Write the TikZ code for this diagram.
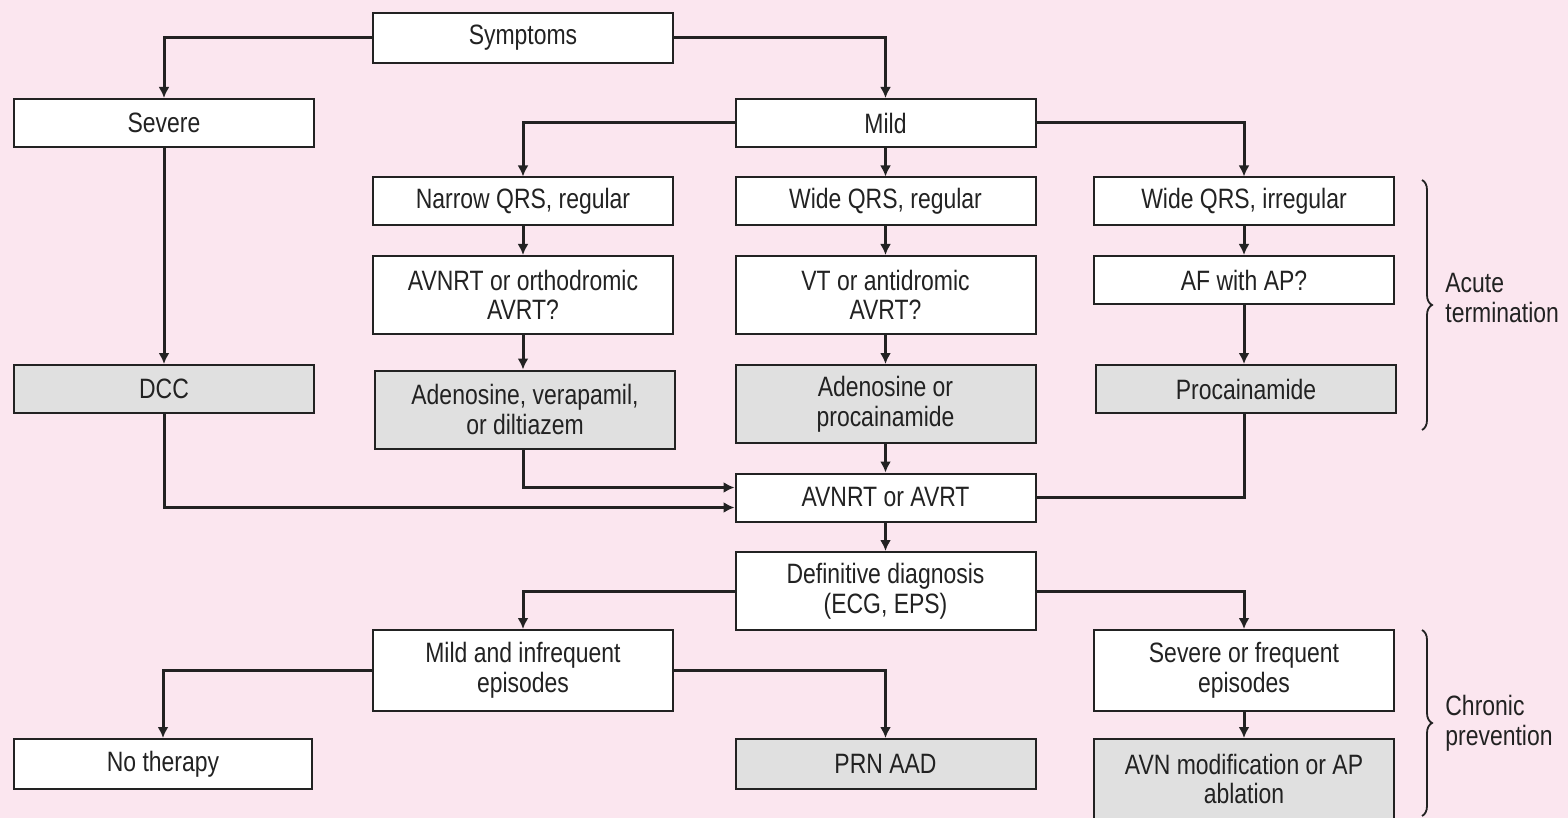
\documentclass[tikz,border=0pt]{standalone}
\usepackage{fontspec}
\setmainfont{Liberation Sans}[FakeStretch=0.82]
\usetikzlibrary{arrows.meta,decorations.pathreplacing}
\definecolor{bgpink}{HTML}{FBE6EF}
\definecolor{boxgray}{HTML}{E0E0E0}
\definecolor{ink}{HTML}{222222}
\begin{document}
\begin{tikzpicture}[x=0.5pt,y=-0.5pt,
  box/.style={draw=ink,line width=1pt,fill=white,minimum width=150pt,
    minimum height=24pt,inner sep=0pt,align=center,text=ink,
    font=\fontsize{14}{14.8}\selectfont},
  tall/.style={minimum height=39pt},
  shaded/.style={fill=boxgray},
  link/.style={draw=ink,line width=1.5pt},
  arr/.style={link,-{Latex[length=5.5pt,width=5.5pt]}},
  brace/.style={draw=ink,line width=0.9pt,decorate,
    decoration={brace,amplitude=5pt}},
  side/.style={anchor=west,align=left,text=ink,inner sep=0pt,
    font=\fontsize{14}{14.8}\selectfont}]
  % canvas
  \fill[bgpink] (0,0) rectangle (1568,818);
  \useasboundingbox (0,0) rectangle (1568,818);

  % boxes
  \node[box,minimum height=25pt] (symp) at (523,38) {Symptoms};
  \node[box] (sev)  at (164,123)   {Severe};
  \node[box] (mild) at (885.5,123) {Mild};
  \node[box] (nqrs) at (523,201.5)   {Narrow QRS, regular};
  \node[box] (wqrs) at (885.5,201.5) {Wide QRS, regular};
  \node[box] (wqi)  at (1244,201.5)  {Wide QRS, irregular};
  \node[box,tall] (avo) at (523,295)   {AVNRT or orthodromic\\AVRT?};
  \node[box,tall] (vt)  at (885.5,295) {VT or antidromic\\AVRT?};
  \node[box] (afap) at (1244,280) {AF with AP?};
  \node[box,shaded] (dcc) at (164,389) {DCC};
  \node[box,shaded,tall] (adv) at (525,409.5) {Adenosine, verapamil,\\or diltiazem};
  \node[box,shaded,tall] (adp) at (885.5,404) {Adenosine or\\procainamide};
  \node[box,shaded] (proc) at (1246,389) {Procainamide};
  \node[box] (avr) at (885.5,497.5) {AVNRT or AVRT};
  \node[box,tall] (dd) at (885.5,591) {Definitive diagnosis\\(ECG, EPS)};
  \node[box,minimum height=40.5pt] (mif) at (523,670.5) {Mild and infrequent\\episodes};
  \node[box,minimum height=40.5pt] (sof) at (1244,670.5) {Severe or frequent\\episodes};
  \node[box,minimum height=25pt,minimum width=149pt] (noth) at (163,764) {No therapy};
  \node[box,shaded,minimum height=25pt] (prn) at (885.5,764) {PRN AAD};
  \node[box,shaded,minimum height=40pt] (avn) at (1244,779) {AVN modification or AP\\ablation};

  % connectors
  \draw[arr] (symp.west) -| (sev.north);
  \draw[arr] (symp.east) -| (mild.north);
  \draw[arr] (mild.west) -| (nqrs.north);
  \draw[arr] (mild) -- (wqrs);
  \draw[arr] (mild.east) -| (wqi.north);
  \draw[arr] (nqrs) -- (avo);
  \draw[arr] (avo.south) -- (avo.south |- adv.north);
  \draw[arr] (wqrs) -- (vt);
  \draw[arr] (vt) -- (adp);
  \draw[arr] (adp) -- (avr);
  \draw[arr] (wqi) -- (afap);
  \draw[arr] (afap.south) -- (afap.south |- proc.north);
  \draw[arr] (sev) -- (dcc);
  \draw[arr] (dcc.south) |- ([yshift=-5pt]avr.west);
  \draw[arr] (avo.south |- adv.south) |- ([yshift=5pt]avr.west);
  \draw[link] (afap.south |- proc.south) |- (avr.east);
  \draw[arr] (avr) -- (dd);
  \draw[arr] (dd.west) -| (mif.north);
  \draw[arr] (dd.east) -| (sof.north);
  \draw[arr] (mif.west) -| (noth.north);
  \draw[arr] (mif.east) -| (prn.north);
  \draw[arr] (sof) -- (avn);

  % phase braces
  \draw[brace] (1422,180) -- (1422,430);
  \node[side] (acute) at (1445,298) {Acute\\termination};
  \draw[brace] (1422,630) -- (1422,816);
  \node[side] (chronic) at (1445,723) {Chronic\\prevention};
\end{tikzpicture}
\end{document}
